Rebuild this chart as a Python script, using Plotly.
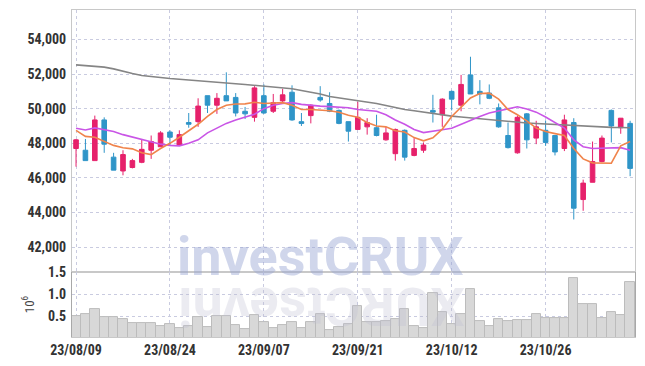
import plotly.graph_objects as go

dates = ["23/08/09","23/08/10","23/08/11","23/08/14","23/08/16","23/08/17","23/08/18","23/08/21","23/08/22","23/08/23",
         "23/08/24","23/08/25","23/08/28","23/08/29","23/08/30","23/08/31","23/09/01","23/09/04","23/09/05","23/09/06",
         "23/09/07","23/09/08","23/09/11","23/09/12","23/09/13","23/09/14","23/09/15","23/09/18","23/09/19","23/09/20",
         "23/09/21","23/09/22","23/09/25","23/09/26","23/09/27","23/10/04","23/10/05","23/10/06","23/10/10","23/10/11",
         "23/10/12","23/10/13","23/10/16","23/10/17","23/10/18","23/10/19","23/10/20","23/10/23","23/10/24","23/10/25",
         "23/10/26","23/10/27","23/10/30","23/10/31","23/11/01","23/11/02","23/11/03","23/11/06","23/11/07","23/11/08"]

open_ = [47700,47600,47000,49350,47200,46400,46600,46900,47600,47800,
         48650,47900,49200,49250,50750,50200,50750,50650,49850,49500,
         50750,49850,50450,50950,49250,49600,50650,50300,49900,49250,
         48800,48950,48900,48200,47400,48750,47300,47600,49900,49650,
         51000,50200,51950,51000,50900,50050,48450,47450,49700,48300,
         48750,48450,47700,49200,44750,45750,46950,49900,48900,49150]
high = [48250,48250,49600,49500,47450,47600,47100,48250,48450,48700,
        48750,48750,49750,50600,50750,50900,52100,50900,50100,51300,
        51400,50850,51150,51350,49750,50250,51300,50950,49950,49250,
        50400,49450,49650,48950,48850,48800,48300,48050,50800,50600,
        51050,51950,53000,51650,51400,50300,49200,49600,49750,49300,
        49300,48450,49650,49450,45900,48100,48450,49950,49450,49300]
low = [46650,47000,47000,47450,46450,46150,46550,46850,47100,47800,
       47900,47850,48900,48950,49750,49700,50450,49550,49400,49250,
       49700,49750,50300,49300,49000,49150,50400,49800,49100,48100,
       48800,48500,48400,48150,47000,47000,47250,47450,49200,48950,
       49900,49850,50850,50250,50550,48900,47700,47400,47700,47950,
       47850,47300,47550,43600,44100,45750,46900,48050,48550,46100]
close = [48200,47000,49350,47950,46450,47350,47000,47650,48100,48600,
         48350,48500,49100,50150,50200,50600,50450,49750,49700,51200,
         49750,50350,50800,49350,49150,50200,50500,49850,49150,48700,
         49500,49200,48450,48600,48800,47200,47700,47900,49800,50550,
         50550,51400,50850,50850,50600,48950,47750,49500,48200,48950,
         48050,47500,49350,44250,45700,46950,48300,49000,49450,46550]

ma_short = [48750,48400,48350,48100,47880,47740,47680,47450,47350,47700,
            48000,48350,48700,49100,49550,49950,50200,50270,50280,50370,
            50300,50320,50350,50200,49950,49950,49920,49880,49790,49620,
            49500,49200,49000,48950,48720,48650,48330,48140,48320,48820,
            49550,50100,50620,50880,50900,50550,49950,49650,49300,48880,
            48680,48560,48450,47700,47100,46870,46850,46850,47850,48100]
ma_mid = [48870,48770,48890,48800,48680,48500,48370,48200,48070,47950,
          47880,47850,48000,48200,48600,48900,49150,49350,49500,49680,
          50000,50200,50300,50350,50250,50180,50150,50120,50100,50050,
          49950,49880,49850,49650,49350,49100,48800,48620,48680,48780,
          48870,49100,49350,49550,49750,49880,49990,50110,49980,49800,
          49520,49200,48880,48200,47800,47700,47710,47710,47750,47600]
ma_long = [52530,52480,52450,52400,52300,52150,52030,51920,51850,51800,
           51740,51700,51650,51600,51560,51500,51470,51440,51400,51350,
           51300,51260,51200,51150,51050,50950,50850,50700,50620,50560,
           50500,50400,50300,50180,50050,49950,49880,49800,49700,49630,
           49570,49520,49470,49380,49340,49300,49250,49210,49170,49140,
           49110,49080,49050,49010,48980,48950,48930,48920,48910,48900]

volume = [0.52,0.56,0.67,0.49,0.49,0.44,0.35,0.35,0.35,0.29,
          0.33,0.24,0.29,0.49,0.26,0.52,0.52,0.31,0.22,0.54,
          0.38,0.24,0.31,0.38,0.24,0.38,0.56,0.20,0.26,0.34,
          0.74,0.38,0.38,0.40,0.45,0.67,0.29,0.24,1.03,0.60,
          0.34,0.56,1.12,0.40,0.29,0.45,0.40,0.43,0.43,0.56,
          0.47,0.47,0.47,1.37,0.79,0.79,0.47,0.60,0.54,1.28]

price_ticks = [42000, 44000, 46000, 48000, 50000, 52000, 54000]
vol_ticks = [0.5, 1.0, 1.5]
vol_ticktext = ["0.5", "1.0", "1.5"]
x_ticks = [dates[i] for i in range(0, 60, 10)]

PINK = "#e6216b"
BLUE = "#2f95c8"
GRID = "#c9cbe0"
AXIS = "#c8c8c8"
FONT = "Liberation Sans Narrow, Roboto Condensed, DejaVu Sans Condensed, Roboto, sans-serif"

fig = go.Figure()

fig.add_trace(go.Bar(x=dates, y=volume, xaxis="x2", yaxis="y2",
                     marker=dict(color="#d8d8d8", line=dict(color="#bcbcbc", width=1)),
                     showlegend=False))

fig.add_trace(go.Candlestick(x=dates, open=open_, high=high, low=low, close=close,
                             increasing=dict(line=dict(color=PINK, width=1), fillcolor=PINK),
                             decreasing=dict(line=dict(color=BLUE, width=1), fillcolor=BLUE),
                             showlegend=False))

fig.add_trace(go.Scatter(x=dates, y=ma_long, mode="lines",
                         line=dict(color="#858585", width=1.6), showlegend=False))
fig.add_trace(go.Scatter(x=dates, y=ma_mid, mode="lines",
                         line=dict(color="#c955e6", width=1.6), showlegend=False))
fig.add_trace(go.Scatter(x=dates, y=ma_short, mode="lines",
                         line=dict(color="#f0844c", width=1.6), showlegend=False))

tickfont = dict(family=FONT, size=14, color="#333333", weight="bold")

fig.update_layout(
    width=645, height=366,
    margin=dict(l=71.5, r=10, t=9.5, b=29, autoexpand=False),
    paper_bgcolor="white", plot_bgcolor="white",
    bargap=0,
    xaxis=dict(type="category", domain=[0, 1], anchor="y", range=[-0.43, 59.52], automargin=False,
               rangeslider=dict(visible=False), tickvals=x_ticks, showticklabels=False,
               showgrid=True, gridcolor=GRID, griddash="dot", gridwidth=1,
               showline=True, linecolor=AXIS, mirror=True, zeroline=False, ticks=""),
    yaxis=dict(domain=[0.1985, 1], anchor="x", range=[40560, 55700], automargin=False,
               tickvals=price_ticks, tickformat=",d", tickfont=tickfont, ticklabelstandoff=2,
               showgrid=True, gridcolor=GRID, griddash="dot", gridwidth=1,
               showline=True, linecolor=AXIS, mirror=True, zeroline=False, ticks=""),
    xaxis2=dict(type="category", domain=[0, 1], anchor="y2", matches="x", range=[-0.43, 59.52],
                automargin=False, tickvals=x_ticks, ticktext=x_ticks, tickfont=tickfont,
                showgrid=True, gridcolor=GRID, griddash="dot", gridwidth=1,
                showline=True, linecolor=AXIS, mirror=True, zeroline=False, ticks=""),
    yaxis2=dict(domain=[0, 0.1985], anchor="x2", range=[0.04, 1.5], automargin=False,
                tickvals=vol_ticks, ticktext=vol_ticktext, tickfont=tickfont, ticklabelstandoff=2,
                title=dict(text="10<sup>6</sup>", font=dict(family=FONT, size=13, color="#444444"), standoff=10),
                showgrid=True, gridcolor=GRID, griddash="dot", gridwidth=1,
                showline=True, linecolor="#a8a8a8", mirror=True, zeroline=False, ticks=""),
    annotations=[
        dict(text="investCRUX", xref="paper", yref="paper", x=0.442, y=0.245,
             xanchor="center", yanchor="middle", showarrow=False,
             font=dict(family="Roboto, sans-serif", size=54, color="rgba(150,165,210,0.45)", weight="bold")),
        dict(text="XURCtsevni", xref="paper", yref="paper", x=0.442, y=0.095,
             xanchor="center", yanchor="middle", showarrow=False, textangle=180,
             font=dict(family="Roboto, sans-serif", size=54, color="rgba(190,190,210,0.3)", weight="bold")),
    ],
)

fig.write_html("out.html", config={"displayModeBar": False},
               post_script="document.body.style.margin='0';document.body.style.overflow='hidden';")
